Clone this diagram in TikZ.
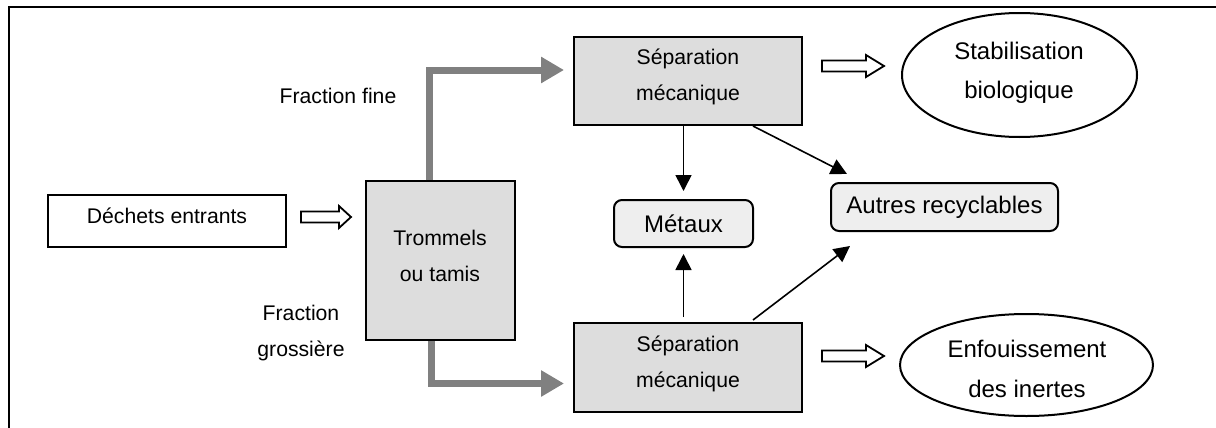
\documentclass[tikz,border=0pt]{standalone}
\usepackage{fontspec}
\setmainfont{Liberation Sans}
\usetikzlibrary{arrows.meta,shapes.geometric,calc}
\definecolor{boxgray}{HTML}{DDDDDD}
\definecolor{lightgray}{HTML}{EEEEEE}
\definecolor{flowgray}{HTML}{808080}
\newcommand\twolines[4]{{\fontsize{#1}{#2}\selectfont\begin{tabular}[t]{@{}c@{}}#3\\#4\end{tabular}}}
\begin{document}
\begin{tikzpicture}[x=0.5pt,y=-0.5pt,
  whitebox/.style={draw, line width=1pt, fill=white, inner sep=0pt},
  graybox/.style={draw, line width=1pt, fill=boxgray, inner sep=0pt},
  roundbox/.style={draw, line width=1pt, fill=lightgray, rounded corners=4pt, inner sep=0pt, font=\fontsize{12}{14}\selectfont},
  oval/.style={draw, line width=1pt, ellipse, fill=white, inner sep=0pt},
  txt/.style={anchor=base, inner sep=0pt, font=\fontsize{10.6}{18}\selectfont},
  bigtxt/.style={anchor=base, inner sep=0pt, font=\fontsize{12}{20}\selectfont},
  flow/.style={draw=flowgray, line width=3.5pt, -{Triangle[length=11.5pt,width=12.5pt]}, color=flowgray},
  blk/.style={line width=0.8pt, -{Triangle[length=8pt,width=8pt]}},
  hollow/.pic={\draw[line width=0.9pt, fill=white, line join=miter]
     (0,-5.5) -- (#1,-5.5) -- (#1,-11) -- (#1+12,0) -- (#1,11) -- (#1,5.5) -- (0,5.5) -- cycle;},
  hollowlong/.pic={\draw[line width=0.9pt, fill=white, line join=miter]
     (0,-5.5) -- (44,-5.5) -- (44,-11) -- (62,0) -- (44,11) -- (44,5.5) -- (0,5.5) -- cycle;}
]
\useasboundingbox (0,0) rectangle (1216,428);
\begin{scope}
  \clip (0,0) rectangle (1216,428);
  \draw[line width=1.2pt] (9,440) -- (9,7) -- (1230,7);
\end{scope}

% shapes
\node[whitebox, minimum width=119pt, minimum height=26pt] (dech) at (167,221) {};
\node[graybox, minimum width=74.5pt, minimum height=79.5pt] (trom) at (440.5,260.5) {};
\node[graybox, minimum width=114pt, minimum height=44pt] (sep1) at (688,81) {};
\node[graybox, minimum width=114pt, minimum height=44.5pt] (sep2) at (688,367.5) {};
\node[roundbox, minimum width=69.5pt, minimum height=23.5pt] (met) at (683.5,223.5) {Métaux};
\node[roundbox, minimum width=113.5pt, minimum height=24pt] (autres) at (944.5,207) {Autres recyclables};
\node[oval, minimum width=117.5pt, minimum height=62pt] (stab) at (1019.5,75) {};
\node[oval, minimum width=126.5pt, minimum height=51pt] (enf) at (1026.5,365) {};

% texts
\node[txt] (dechT) at (167,223) {Déchets entrants};
\node[txt] (tromT) at (440,245) {\twolines{10.6}{18}{Trommels}{ou tamis}};
\node[txt] (sep1T) at (688,64) {\twolines{10.6}{18}{Séparation}{mécanique}};
\node[txt] (sep2T) at (688,351) {\twolines{10.6}{18}{Séparation}{mécanique}};
\node[bigtxt] (stabT) at (1019,59) {\twolines{12}{20}{Stabilisation}{biologique}};
\node[bigtxt] (enfT) at (1027,357) {\twolines{12}{20}{Enfouissement}{des inertes}};
\node[txt] (fine) at (338,103) {Fraction fine};
\node[txt] (gross) at (301,320) {\twolines{10.6}{18}{Fraction}{grossière}};

% gray flow arrows
\draw[flow, shorten >=4.5pt] ([xshift=-5.5pt]trom.north) |- ([yshift=5.5pt]sep1.west);
\draw[flow, shorten >=4.5pt] ([xshift=-4.5pt]trom.south) |- ([yshift=-8pt]sep2.west);

% black arrows
\draw[blk, shorten >=4pt] (met.north |- sep1.south) -- (met.north);
\draw[blk, shorten <=2.5pt, shorten >=3pt] (met.south |- sep2.north) -- (met.south);
\draw[blk] ($(sep1.south east)+(-50,0)$) -- ($(autres.north west)+(17,-8)$);
\draw[blk] ($(sep2.north east)+(-50,-2)$) -- ($(autres.south west)+(20,14)$);

% hollow arrows
\pic at ($(dech.east)+(14,-4)$) {hollow=38};
\pic at ($(sep1.east)+(19,-15)$) {hollowlong};
\pic at ($(sep2.east)+(19,-11.5)$) {hollowlong};
\end{tikzpicture}
\end{document}
